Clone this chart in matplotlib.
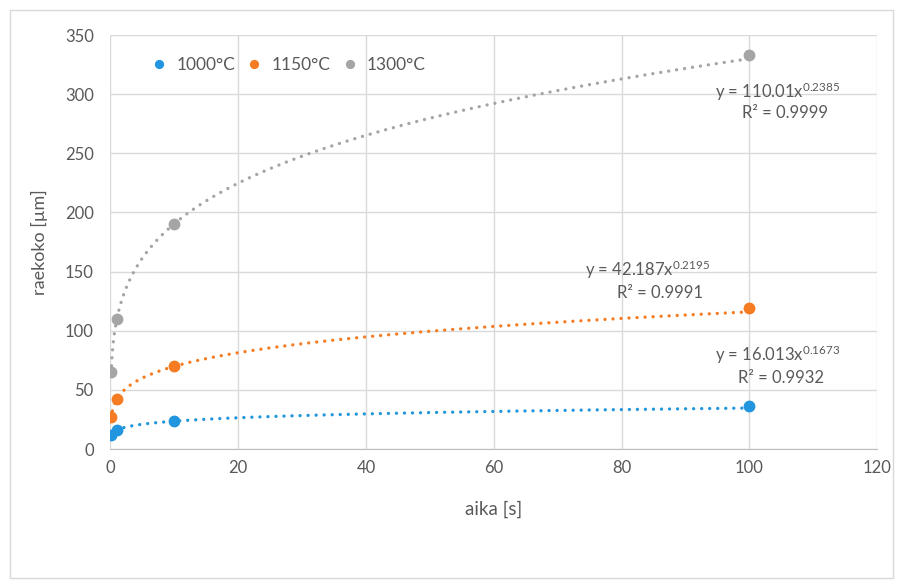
import numpy as np
import matplotlib
matplotlib.use("Agg")
import matplotlib.pyplot as plt
from matplotlib.patches import Rectangle

# measured grain size vs. annealing time
aika = [0.1, 1, 10, 100]
koko_1000 = [12, 16, 24, 36]
koko_1150 = [27, 42, 70, 119]
koko_1300 = [65, 110, 190, 333]

labels = ["1000°C", "1150°C", "1300°C"]
colors = ["#2196DE", "#F57C23", "#A5A5A5"]

# power-law trendlines as given on the chart: y = a * x^b
fit_a = [16.013, 42.187, 110.01]
fit_b = [0.1673, 0.2195, 0.2385]
fit_r2 = ["0.9932", "0.9991", "0.9999"]
fit_a_txt = ["16.013", "42.187", "110.01"]

plt.rcParams['font.family'] = ['Lato', 'DejaVu Sans']
plt.rcParams['mathtext.fontset'] = 'custom'
plt.rcParams['mathtext.rm'] = 'Lato'
plt.rcParams['mathtext.it'] = 'Lato'

txt = '#595959'
fig = plt.figure(figsize=(9.04, 5.86), dpi=100)
fig.patches.append(Rectangle((10/904, 8/586), 883/904, 568/586, transform=fig.transFigure,
                             fill=False, edgecolor='#D9D9D9', linewidth=1))
ax = fig.add_axes([110.5/904, 1-449/586, (877-110.5)/904, (449-35)/586])

series = [koko_1000, koko_1150, koko_1300]
xs = np.linspace(aika[0], aika[-1], 800)
for i, ys in enumerate(series):
    ax.plot(xs, fit_a[i]*xs**fit_b[i], linestyle=(0, (0.01, 2.4)), color=colors[i],
            linewidth=2.4, dash_capstyle='round', zorder=2)
    ax.plot(aika, ys, 'o', color=colors[i], markersize=7.5, label=labels[i], zorder=3)

ax.set_xlim(0, 120)
ax.set_ylim(0, 350)
ax.set_xticks(range(0, 121, 20))
ax.set_yticks(range(0, 351, 50))
ax.grid(True, color='#D9D9D9', linewidth=1)
ax.set_axisbelow(True)
for s in ['top', 'right', 'left']:
    ax.spines[s].set_visible(False)
ax.spines['bottom'].set_color('#BFBFBF')
ax.tick_params(length=0, labelsize=12, colors=txt)
ax.tick_params(axis='y', pad=12)
ax.tick_params(axis='x', pad=8)

ax.set_xlabel("aika [s]", fontsize=13.5, color=txt, labelpad=18)
ax.set_ylabel("raekoko [µm]", fontsize=13, color=txt, labelpad=12)

leg = ax.legend(loc='upper left', bbox_to_anchor=(0.02, 0.985), ncol=3, frameon=False,
                fontsize=12.5, handletextpad=0.0, columnspacing=0.1, markerscale=0.75)
for t in leg.get_texts():
    t.set_color(txt)

# trendline equations
eq_pos = [(104.4, 79.5, 104.9, 60), (84, 151.3, 86, 132), (104.4, 301.8, 105.6, 284)]
for i, (x1, y1, x2, y2) in enumerate(eq_pos):
    ax.text(x1, y1, "y = " + fit_a_txt[i] + "x$^{" + str(fit_b[i]) + "}$", fontsize=12,
            color=txt, ha='center', va='center')
    ax.text(x2, y2, "R² = " + fit_r2[i], fontsize=12, color=txt, ha='center', va='center')

fig.savefig("out.png", dpi=100)
